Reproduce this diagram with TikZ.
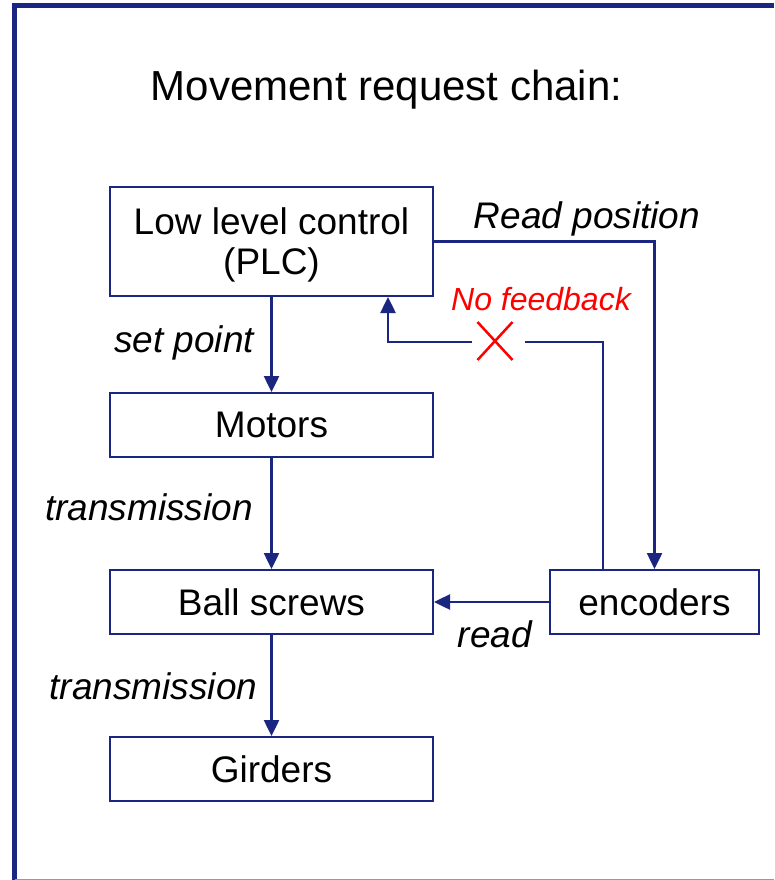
\documentclass[tikz,border=0pt]{standalone}
\usepackage{fontspec}
\setmainfont{Liberation Sans}
\usetikzlibrary{arrows.meta,calc}
\definecolor{navy}{RGB}{26,38,128}
\definecolor{framelight}{RGB}{140,150,200}
\begin{document}
\begin{tikzpicture}[x=1pt,y=-1pt,
  box/.style={draw=navy,line width=2pt,fill=white,inner sep=0pt,minimum width=323pt,minimum height=64pt,font=\fontsize{37}{44}\selectfont,align=center},
  conn/.style={draw=navy,line width=2.5pt},
  arr/.style={conn,-{Triangle[length=16pt,width=15pt]}},
  lbl/.style={font=\fontsize{37}{44}\selectfont\itshape,inner sep=0pt},
  redlbl/.style={font=\fontsize{32}{38}\selectfont\itshape,text=red,inner sep=0pt}]
\useasboundingbox (0,0) rectangle (774,880);
\fill[white] (0,0) rectangle (774,880);
% frame
\draw[navy,line width=5pt] (14.5,880) -- (14.5,5.5) -- (774,5.5);
\draw[framelight,line width=1.5pt] (14.5,879.3) -- (774,879.3);
% title
\node[inner sep=0pt,font=\fontsize{42}{50}\selectfont] (title) at (386.5,90) {Movement request chain:};
% boxes
\node[box,minimum height=109pt] (plc) at (271.5,241.5) {};
\node[font=\fontsize{37}{44}\selectfont,inner sep=0pt] (plct1) at (271.5,221) {Low level control};
\node[font=\fontsize{37}{44}\selectfont,inner sep=0pt] (plct2) at (271.5,265) {(PLC)};
\node[box] (mot) at (271.5,425) {Motors};
\node[box] (ball) at (271.5,602) {Ball screws};
\node[box] (gird) at (271.5,769) {Girders};
\node[box,minimum width=209pt] (enc) at (654.5,602) {encoders};
% coordinates
\coordinate (fbUp) at ($(enc.north)+(-51.5,0)$);
\coordinate (gapR) at (525,342);
\coordinate (gapL) at (472,342);
\coordinate (fbIn) at ($(plc.south)+(116.5,0)$);
% connectors
\draw[arr] (plc.south) -- (mot.north);
\draw[arr] (mot.south) -- (ball.north);
\draw[arr] (ball.south) -- (gird.north);
\draw[arr] (plc.east) -| (enc.north);
\draw[arr] (enc.west) -- (ball.east);
\draw[conn] (fbUp) |- (gapR);
\draw[arr] (gapL) -| (fbIn);
% red cross
\draw[red,line width=2.5pt] (477.5,322) -- (512.5,360) (512.5,322) -- (477.5,360);
% labels
\node[lbl] (lsp) at (184,343) {set point};
\node[lbl] (lt1) at (149,507) {transmission};
\node[lbl] (lt2) at (153.5,686) {transmission};
\node[lbl] (lrp) at (587,219) {Read position};
\node[lbl] (lrd) at (495,634) {read};
\node[redlbl] (lnf) at (541,299) {No feedback};
\end{tikzpicture}
\end{document}
